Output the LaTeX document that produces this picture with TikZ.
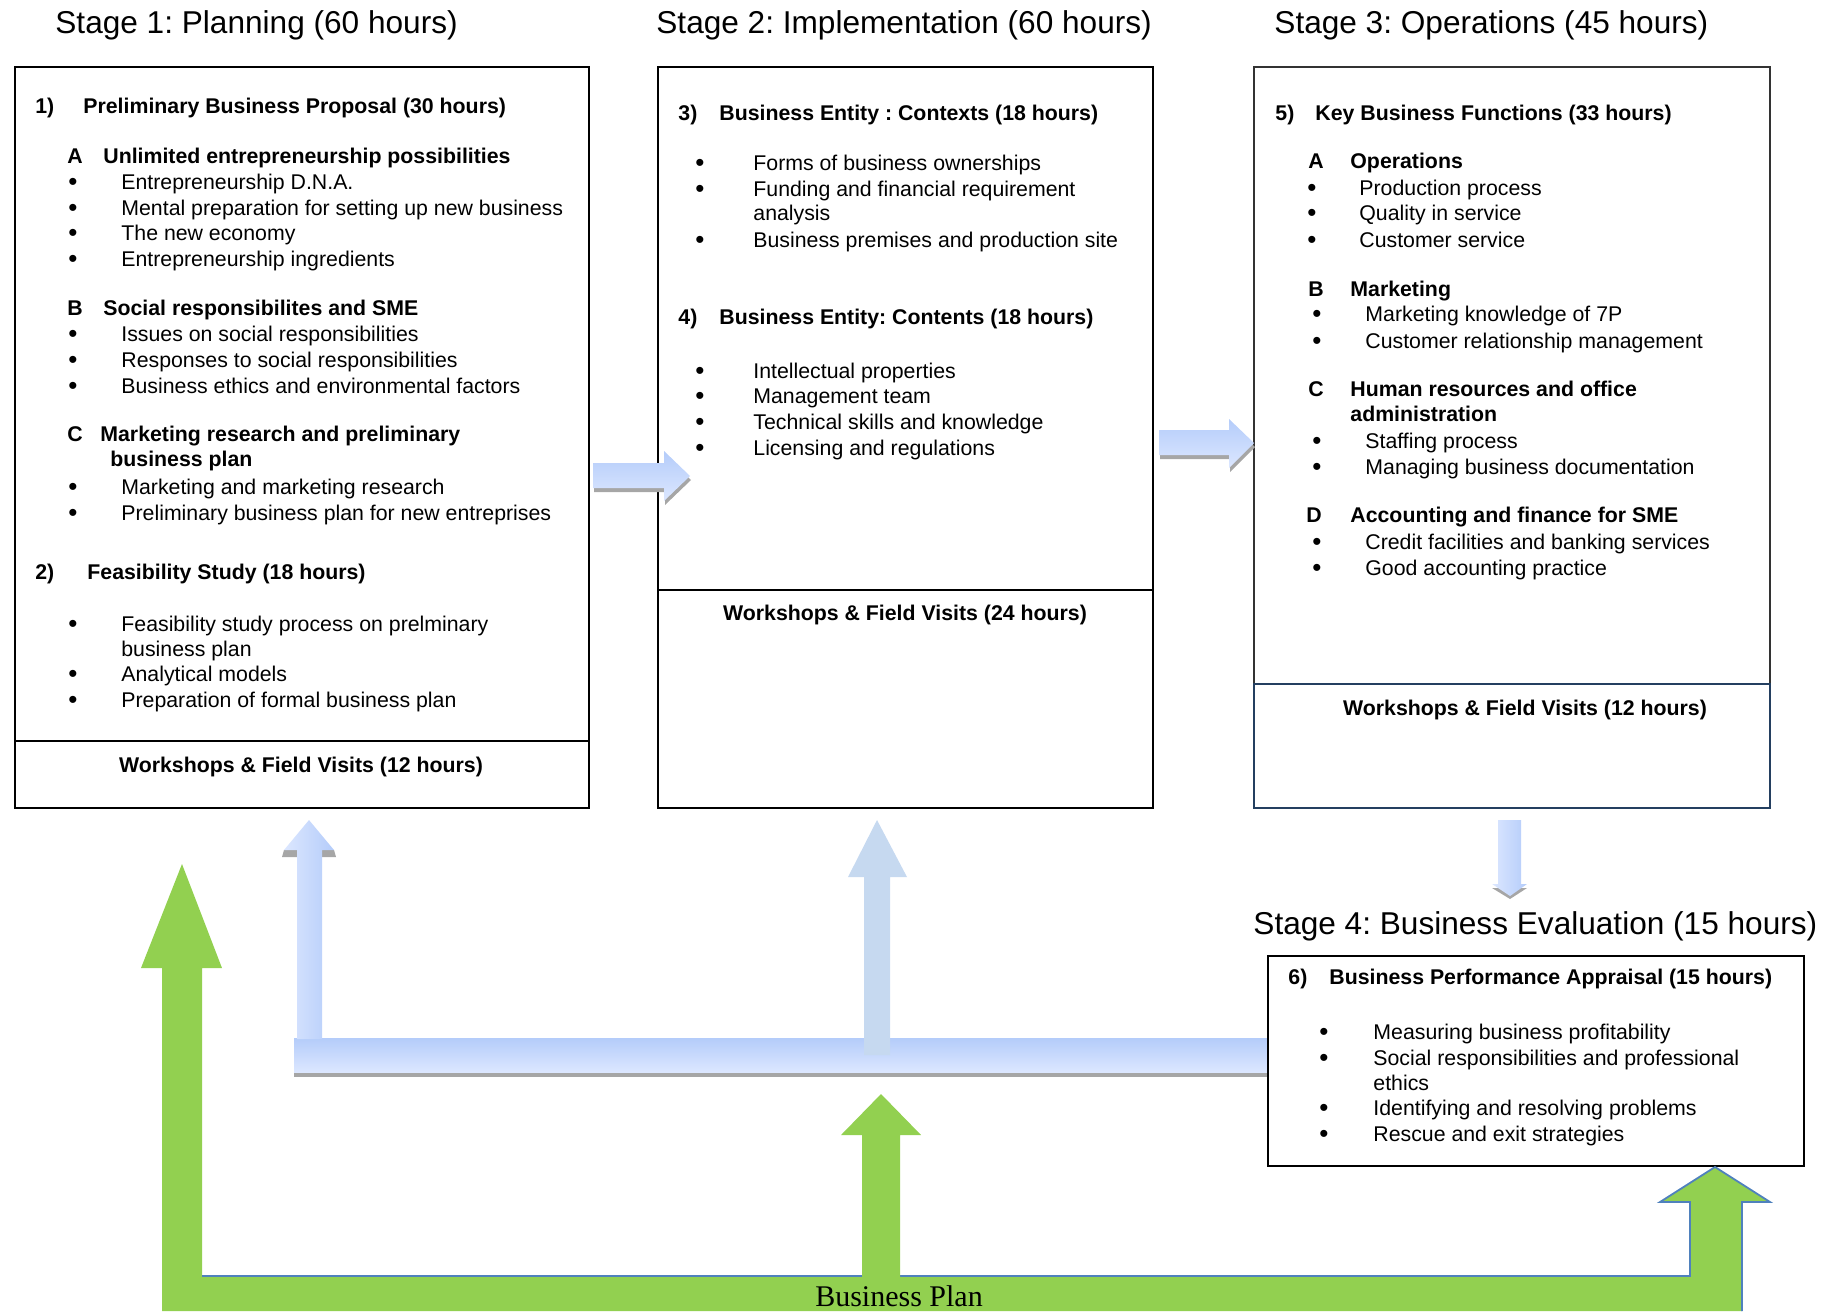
\documentclass[tikz,border=0pt]{standalone}
\usepackage{fontspec}
\setmainfont{Liberation Sans}
\newfontfamily\planserif{Liberation Serif}
\usetikzlibrary{calc}
\frenchspacing

\definecolor{plangreen}{HTML}{92D050}
\definecolor{planedge}{HTML}{4F81BD}
\definecolor{flowtop}{HTML}{B4CCFA}
\definecolor{flowbot}{HTML}{DCE7FF}
\definecolor{flowflat}{HTML}{C6D9F0}
\definecolor{framedark}{HTML}{243F60}

\tikzset{
  stagetitle/.style={anchor=mid west, inner sep=0, yshift=-3pt, font=\fontsize{15.8}{18}\selectfont},
  headline/.style={anchor=mid west, inner sep=0, yshift=-1.2pt, font=\fontsize{10.65}{12}\selectfont\bfseries},
  itemline/.style={anchor=mid west, inner sep=0, yshift=-1.2pt, font=\fontsize{10.65}{12}\selectfont},
  bulletmark/.style={anchor=mid, inner sep=0, yshift=-1.4pt, font=\fontsize{13}{12}\selectfont},
  workline/.style={anchor=mid, inner sep=0, yshift=-1.2pt, font=\fontsize{10.65}{12}\selectfont\bfseries},
  frame/.style={draw=black, line width=0.7pt},
  flow/.style={top color=flowtop, bottom color=flowbot, draw=none},
  flowside/.style={left color=flowbot, right color=flowtop, draw=none},
  shadowband/.style={fill=black!35, draw=none},
}

\begin{document}
\begin{tikzpicture}[x=0.5pt, y=-0.5pt]
\useasboundingbox (0,0) rectangle (1839,1311);

% stage titles
\node[stagetitle] (st1) at (55,22) {Stage 1: Planning (60 hours)};
\node[stagetitle] (st2) at (656,22) {Stage 2: Implementation (60 hours)};
\node[stagetitle] (st3) at (1274,22) {Stage 3: Operations (45 hours)};
\node[stagetitle] (st4) at (1253,923) {Stage 4: Business Evaluation (15 hours)};

% frames
\draw[frame] (15,67) rectangle (589,808) (15,741) -- (589,741);
\draw[frame] (658,67) rectangle (1153,808) (658,590) -- (1153,590);
\draw[frame, draw=black!80] (1254,67) rectangle (1770,684);
\draw[draw=framedark, line width=1.4pt] (1254,684) rectangle (1770,808);

% stage 1
\node[headline] (n1) at (35,106) {1)};
\node[headline] (h1) at (83,106) {Preliminary Business Proposal (30 hours)};
\node[headline] (l1a) at (67,156) {A};
\node[headline] (h1a) at (103,156) {Unlimited entrepreneurship possibilities};
\foreach \y/\t in {182/Entrepreneurship D.N.A., 208/Mental preparation for setting up new business, 233/The new economy, 259/Entrepreneurship ingredients, 334/Issues on social responsibilities, 360/Responses to social responsibilities, 386/Business ethics and environmental factors, 487/Marketing and marketing research, 513/Preliminary business plan for new entreprises, 624/Feasibility study process on prelminary, 674/Analytical models, 700/Preparation of formal business plan}
{
  \node[bulletmark] (d1-\y) at (73,\y) {\textbullet};
  \node[itemline] (t1-\y) at (121,\y) {\t};
}
\node[itemline] (t1-649) at (121,649) {business plan};
\node[headline] (l1b) at (67,308) {B};
\node[headline] (h1b) at (103,308) {Social responsibilites and SME};
\node[headline] (l1c) at (67,434) {C};
\node[headline] (h1c) at (100,434) {Marketing research and preliminary};
\node[headline] (h1c2) at (110,459) {business plan};
\node[headline] (n2) at (35,572) {2)};
\node[headline] (h2) at (87,572) {Feasibility Study (18 hours)};
\node[workline] (w1) at (301,765) {Workshops \& Field Visits (12 hours)};

% stage 2
\node[headline] (n3) at (678,113) {3)};
\node[headline] (h3) at (719,113) {Business Entity : Contexts (18 hours)};
\foreach \y/\t in {163/Forms of business ownerships, 189/Funding and financial requirement, 240/Business premises and production site, 371/Intellectual properties, 396/Management team, 422/Technical skills and knowledge, 448/Licensing and regulations}
{
  \node[bulletmark] (d2-\y) at (700,\y) {\textbullet};
  \node[itemline] (t2-\y) at (753,\y) {\t};
}
\node[itemline] (t2-213) at (753,213) {analysis};
\node[headline] (n4) at (678,317) {4)};
\node[headline] (h4) at (719,317) {Business Entity: Contents (18 hours)};
\node[workline] (w2) at (905,613) {Workshops \& Field Visits (24 hours)};

% stage 3
\node[headline] (n5) at (1275,113) {5)};
\node[headline] (h5) at (1315,113) {Key Business Functions (33 hours)};
\node[headline] (l5a) at (1308,161) {A};
\node[headline] (h5a) at (1350,161) {Operations};
\foreach \y/\t in {188/Production process, 213/Quality in service, 240/Customer service}
{
  \node[bulletmark] (d3-\y) at (1312,\y) {\textbullet};
  \node[itemline] (t3-\y) at (1359,\y) {\t};
}
\node[headline] (l5b) at (1308,289) {B};
\node[headline] (h5b) at (1350,289) {Marketing};
\node[headline] (l5c) at (1308,389) {C};
\node[headline] (h5c) at (1350,389) {Human resources and office};
\node[headline] (h5c2) at (1350,414) {administration};
\node[headline] (l5d) at (1306,515) {D};
\node[headline] (h5d) at (1350,515) {Accounting and finance for SME};
\foreach \y/\t in {314/Marketing knowledge of 7P, 341/Customer relationship management, 441/Staffing process, 467/Managing business documentation, 542/Credit facilities and banking services, 568/Good accounting practice}
{
  \node[bulletmark] (d3-\y) at (1317,\y) {\textbullet};
  \node[itemline] (t3-\y) at (1365,\y) {\t};
}
\node[workline] (w3) at (1525,708) {Workshops \& Field Visits (12 hours)};

% blue flow arrows
\fill[shadowband, shift={(1,4)}] (593,463) -- (664,463) -- (664,451) -- (690,476) -- (664,501) -- (664,488) -- (593,488) -- cycle;
\path[flow] (593,463) -- (664,463) -- (664,451) -- (690,476) -- (664,501) -- (664,488) -- (593,488) -- cycle;
\fill[shadowband, shift={(1,4)}] (1159,430) -- (1229,430) -- (1229,419) -- (1254,443) -- (1229,468) -- (1229,455) -- (1159,455) -- cycle;
\path[flow] (1159,430) -- (1229,430) -- (1229,419) -- (1254,443) -- (1229,468) -- (1229,455) -- (1159,455) -- cycle;
\fill[shadowband] (1492,888) -- (1527,888) -- (1510,899) -- cycle;
\path[flowside] (1498,820) -- (1521,820) -- (1521,884) -- (1527,884) -- (1510,896) -- (1492,884) -- (1498,884) -- cycle;

% feedback bar
\fill[shadowband] (294,1070) rectangle (1268,1077);
\path[flow] (294,1038) rectangle (1268,1072);
\fill[shadowband] (284,850) -- (334,850) -- (336,857) -- (282,857) -- cycle;
\path[flowside] (297,1039) -- (297,850) -- (284,850) -- (309,820) -- (334,850) -- (322,850) -- (322,1039) -- cycle;
\fill[flowflat] (864,1055) -- (864,877) -- (848,877) -- (877,820) -- (907,877) -- (890,877) -- (890,1055) -- cycle;

% stage 4
\draw[frame, fill=white] (1268,956) rectangle (1804,1166);
\node[headline] (n6) at (1288,977) {6)};
\node[headline] (h6) at (1329,977) {Business Performance Appraisal (15 hours)};
\foreach \y/\t in {1032/Measuring business profitability, 1058/Social responsibilities and professional, 1108/Identifying and resolving problems, 1134/Rescue and exit strategies}
{
  \node[bulletmark] (d4-\y) at (1324,\y) {\textbullet};
  \node[itemline] (t4-\y) at (1373,\y) {\t};
}
\node[itemline] (t4-1083) at (1373,1083) {ethics};

% business plan arrows
\fill[plangreen] (182,864) -- (222,968) -- (202,968) -- (202,1276) -- (1690,1276) -- (1690,1202) -- (1660,1202) -- (1715,1167) -- (1770,1202) -- (1742,1202) -- (1742,1311) -- (162,1311) -- (162,968) -- (141,968) -- cycle;
\draw[planedge, line width=0.9pt] (202,1276) -- (1690,1276) -- (1690,1202) -- (1660,1202) -- (1715,1167) -- (1770,1202) -- (1742,1202) -- (1742,1311);
\fill[plangreen] (862,1277) -- (862,1135) -- (841,1135) -- (881,1094) -- (921,1135) -- (900,1135) -- (900,1277) -- cycle;
\node[inner sep=0, font=\planserif\fontsize{15}{18}\selectfont] (bp) at (899,1296) {Business Plan};

\end{tikzpicture}
\end{document}
